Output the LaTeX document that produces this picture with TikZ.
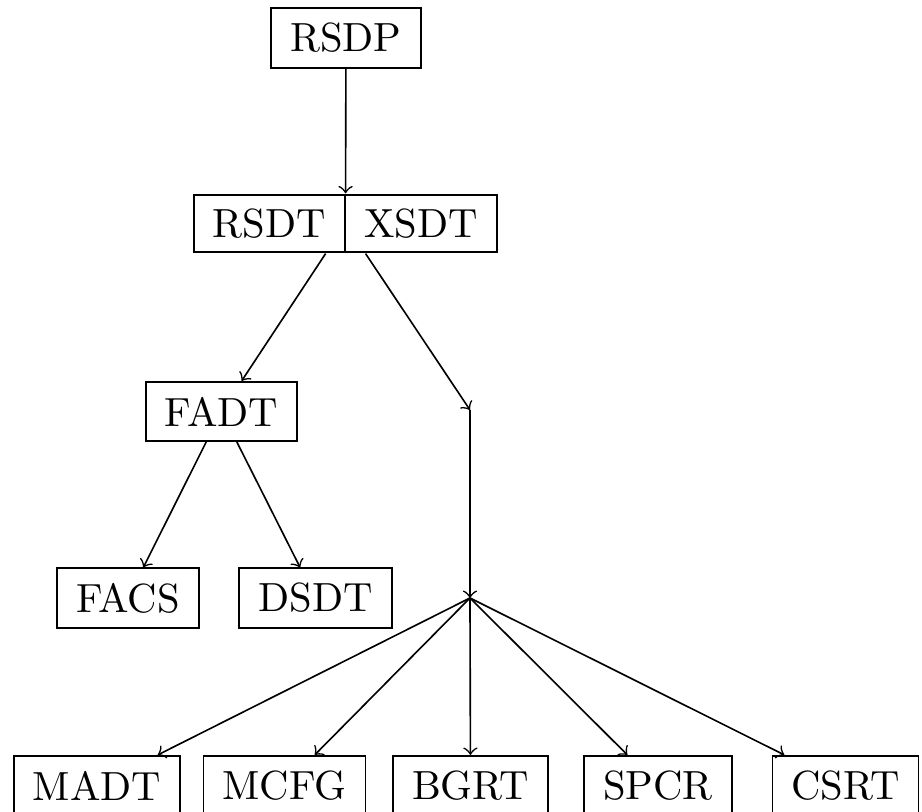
\documentclass[tikz,border=0pt]{standalone}
\usetikzlibrary{fit}
\begin{document}
\begin{tikzpicture}[x=0.2457pt,y=-0.2457pt,
  box/.style={draw, rectangle, line width=0.4pt, inner xsep=4.7pt, inner ysep=0pt, minimum height=14.6pt},
  link/.style={->, line width=0.4pt}]
\useasboundingbox (0,0) rectangle (922,812);

% root
\node[box] (rsdp) at (346,38) {RSDP};

% two-part box, the halves sharing one divider line
\node[box, anchor=east, minimum height=14pt] (rsdt) at (346,223.5) {RSDT};
\node[box, anchor=west, minimum height=14pt, xshift=-0.4pt] (xsdt) at (346,223.5) {XSDT};
\node[fit=(rsdt)(xsdt), inner sep=0pt] (split) {};

% left branch
\node[box] (fadt) at (221.5,411.5) {FADT};
\node[box] (facs) at (128,598) {FACS};
\node[box] (dsdt) at (315.5,598) {DSDT};

% right branch joints
\coordinate (c1) at (470,410);
\coordinate (c2) at (470,598);

% bottom row
\node[box] (madt) at (97,785.5) {MADT};
\node[box] (mcfg) at (284.5,785.5) {MCFG};
\node[box] (bgrt) at (470.5,785.5) {BGRT};
\node[box] (spcr) at (658,785.5) {SPCR};
\node[box] (csrt) at (845.5,785.5) {CSRT};

% connectors
\draw[link] (rsdp) -- (split);
\draw[link] (split) -- (fadt);
\draw[link] (split) -- (c1);
\draw[link] (fadt) -- (facs);
\draw[link] (fadt) -- (dsdt);
\draw[link] (c1) -- (c2);
\foreach \n in {madt,mcfg,bgrt,spcr,csrt}
  \draw[link] (c2) -- (\n);
\end{tikzpicture}
\end{document}
